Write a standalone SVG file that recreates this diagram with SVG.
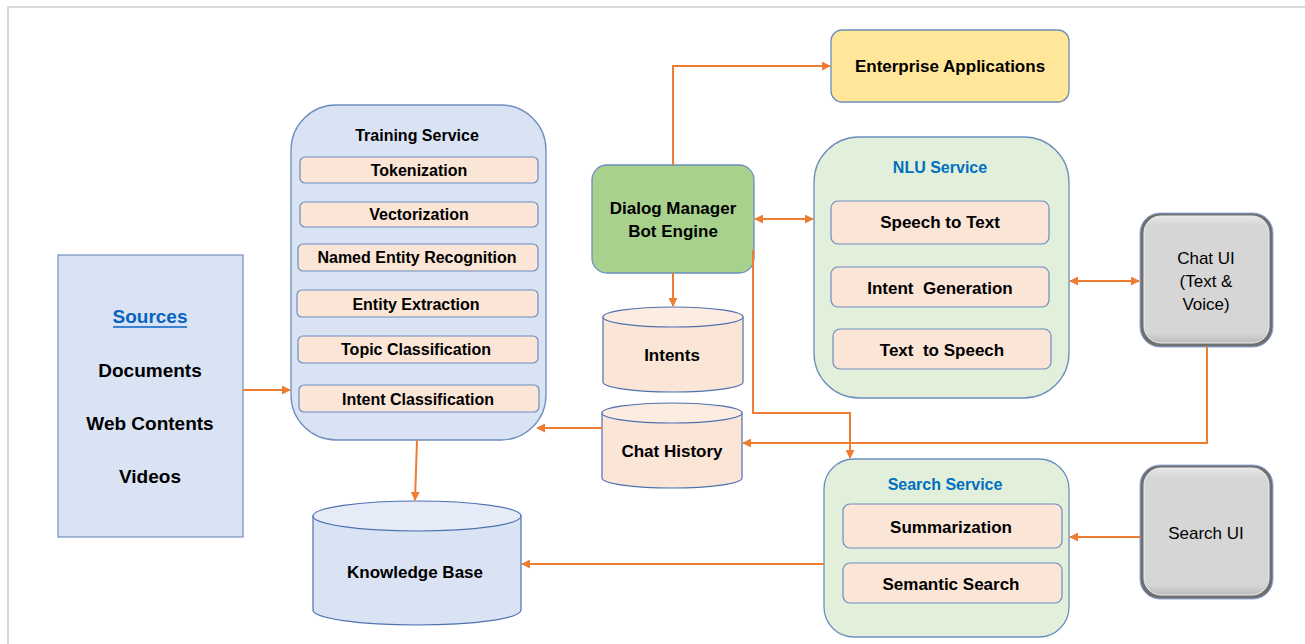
<svg xmlns="http://www.w3.org/2000/svg" width="1305" height="644" viewBox="0 0 1305 644">
<style>
text{font-family:"Liberation Sans",Arial,sans-serif;font-weight:bold;fill:#000;text-anchor:middle;dominant-baseline:central}
.s16{font-size:16px}.s17{font-size:17px}.s19{font-size:19px}
.reg{font-weight:normal}
.blue{fill:#0070c0}
.sub{fill:#fbe5d6;stroke:#6c8ebf;stroke-width:1.2}
.svc{stroke:#6c8ebf;stroke-width:1.3}
.cyl{fill:#fbe5d6;stroke:#4f71b0;stroke-width:1.2}
.cyltop{fill:#fcece1;stroke:#4f71b0;stroke-width:1.2}
.con{fill:none;stroke:#ed7d31;stroke-width:2}
</style>
<defs>
<marker id="ah" viewBox="0 0 10 10" refX="9" refY="5" markerWidth="9" markerHeight="9" markerUnits="userSpaceOnUse" orient="auto-start-reverse">
<path d="M0,0 L10,5 L0,10 z" fill="#ed7d31"/>
</marker>
<linearGradient id="bevV" x1="0" y1="0" x2="0" y2="1">
<stop offset="0" stop-color="#e6e6e6"/>
<stop offset="0.08" stop-color="#d6d6d6"/>
<stop offset="0.92" stop-color="#d6d6d6"/>
<stop offset="1" stop-color="#bcbcbc"/>
</linearGradient>
</defs>
<rect width="1305" height="644" fill="#fff"/>
<path d="M8,644 V7 H1305" fill="none" stroke="#d9d9d9" stroke-width="2"/>

<g id="sources">
<rect x="58" y="255" width="185" height="282" fill="#dae3f3" stroke="#7f96c0" stroke-width="1.3"/>
<text x="150" y="316" class="s19" fill="#0563c1" style="fill:#0563c1">Sources</text>
<line x1="113" y1="327" x2="187" y2="327" stroke="#0563c1" stroke-width="1.3"/>
<text x="150" y="370" class="s19">Documents</text>
<text x="150" y="423" class="s19">Web Contents</text>
<text x="150" y="476" class="s19">Videos</text>
</g>

<g id="training-service">
<rect x="291" y="105" width="255" height="335" rx="45" fill="#dae3f3" class="svc"/>
<text x="417" y="135" class="s16">Training Service</text>
<rect x="300" y="157" width="238" height="26" rx="5" class="sub"/>
<text x="419" y="170" class="s16">Tokenization</text>
<rect x="300" y="202" width="238" height="25" rx="5" class="sub"/>
<text x="419" y="214" class="s16">Vectorization</text>
<rect x="298" y="244" width="240" height="27" rx="5" class="sub"/>
<text x="417" y="257" class="s16">Named Entity Recognition</text>
<rect x="297" y="290" width="241" height="27" rx="5" class="sub"/>
<text x="416" y="304" class="s16">Entity Extraction</text>
<rect x="298" y="336" width="240" height="27" rx="5" class="sub"/>
<text x="416" y="349" class="s16">Topic Classification</text>
<rect x="299" y="385" width="240" height="27" rx="5" class="sub"/>
<text x="418" y="399" class="s16">Intent Classification</text>
</g>

<g id="dialog-manager">
<rect x="592" y="165" width="162" height="108" rx="15" fill="#a9d18e" class="svc"/>
<text x="673" y="208" class="s17">Dialog Manager</text>
<text x="673" y="231" class="s17">Bot Engine</text>
</g>

<g id="enterprise-apps">
<rect x="831" y="30" width="238" height="72" rx="11" fill="#ffe699" class="svc"/>
<text x="950" y="66" class="s17">Enterprise Applications</text>
</g>

<g id="nlu-service">
<rect x="814" y="137" width="255" height="261" rx="45" fill="#e2efda" class="svc"/>
<text x="940" y="167" class="s16 blue">NLU Service</text>
<rect x="831" y="201" width="218" height="43" rx="7" class="sub"/>
<text x="940" y="222" class="s17" xml:space="preserve">Speech to Text</text>
<rect x="831" y="267" width="218" height="40" rx="7" class="sub"/>
<text x="940" y="288" class="s17" xml:space="preserve">Intent  Generation</text>
<rect x="833" y="329" width="218" height="40" rx="7" class="sub"/>
<text x="942" y="350" class="s17" xml:space="preserve">Text  to Speech</text>
</g>

<g id="chat-ui">
<rect x="1140" y="213" width="133" height="134" rx="20" fill="#6f6f6f" stroke="#8eaadb" stroke-width="1"/>
<rect x="1144" y="216" width="125" height="127" rx="17" fill="url(#bevV)" stroke="#efefef" stroke-width="1"/>
<text x="1206" y="258" class="s17 reg">Chat UI</text>
<text x="1206" y="281" class="s17 reg">(Text &amp;</text>
<text x="1206" y="304" class="s17 reg">Voice)</text>
</g>

<g id="intents">
<path d="M603,317 V382 A70,10 0 0 0 743,382 V317 Z" class="cyl"/>
<ellipse cx="673" cy="317" rx="70" ry="10" class="cyltop"/>
<text x="672" y="355" class="s17">Intents</text>
</g>

<g id="chat-history">
<path d="M602,413 V478 A70,10 0 0 0 742,478 V413 Z" class="cyl"/>
<ellipse cx="672" cy="413" rx="70" ry="10" class="cyltop"/>
<text x="672" y="451" class="s17">Chat History</text>
</g>

<g id="knowledge-base">
<path d="M313,516 V610 A104,15 0 0 0 521,610 V516 Z" fill="#dae3f3" stroke="#4f71b0" stroke-width="1.2"/>
<ellipse cx="417" cy="516" rx="104" ry="15" fill="#e6ecf7" stroke="#4f71b0" stroke-width="1.2"/>
<text x="415" y="572" class="s17">Knowledge Base</text>
</g>

<g id="search-service">
<rect x="824" y="459" width="245" height="178" rx="30" fill="#e2efda" class="svc"/>
<text x="945" y="484" class="s16 blue">Search Service</text>
<rect x="843" y="504" width="219" height="44" rx="7" class="sub"/>
<text x="951" y="527" class="s17">Summarization</text>
<rect x="843" y="563" width="219" height="40" rx="7" class="sub"/>
<text x="951" y="584" class="s17">Semantic Search</text>
</g>

<g id="search-ui">
<rect x="1140" y="465" width="133" height="134" rx="20" fill="#6f6f6f" stroke="#8eaadb" stroke-width="1"/>
<rect x="1144" y="468" width="125" height="127" rx="17" fill="url(#bevV)" stroke="#efefef" stroke-width="1"/>
<text x="1206" y="533" class="s17 reg">Search UI</text>
</g>

<g id="connectors">
<path class="con" d="M243,390 H290" marker-end="url(#ah)"/>
<path class="con" d="M673,165 V66 H830" marker-end="url(#ah)"/>
<path class="con" d="M755,219 H813" marker-start="url(#ah)" marker-end="url(#ah)"/>
<path class="con" d="M673,273 V306" marker-end="url(#ah)"/>
<path class="con" d="M1070,281 H1139" marker-start="url(#ah)" marker-end="url(#ah)"/>
<path class="con" d="M1207,347 V443 H743" marker-end="url(#ah)"/>
<path class="con" d="M602,428 H537" marker-end="url(#ah)"/>
<path class="con" d="M753,250 V413 H850 V458" marker-end="url(#ah)"/>
<path class="con" d="M417,440 L415,500" marker-end="url(#ah)"/>
<path class="con" d="M1140,537 H1070" marker-end="url(#ah)"/>
<path class="con" d="M824,564 H522" marker-end="url(#ah)"/>
</g>
</svg>
